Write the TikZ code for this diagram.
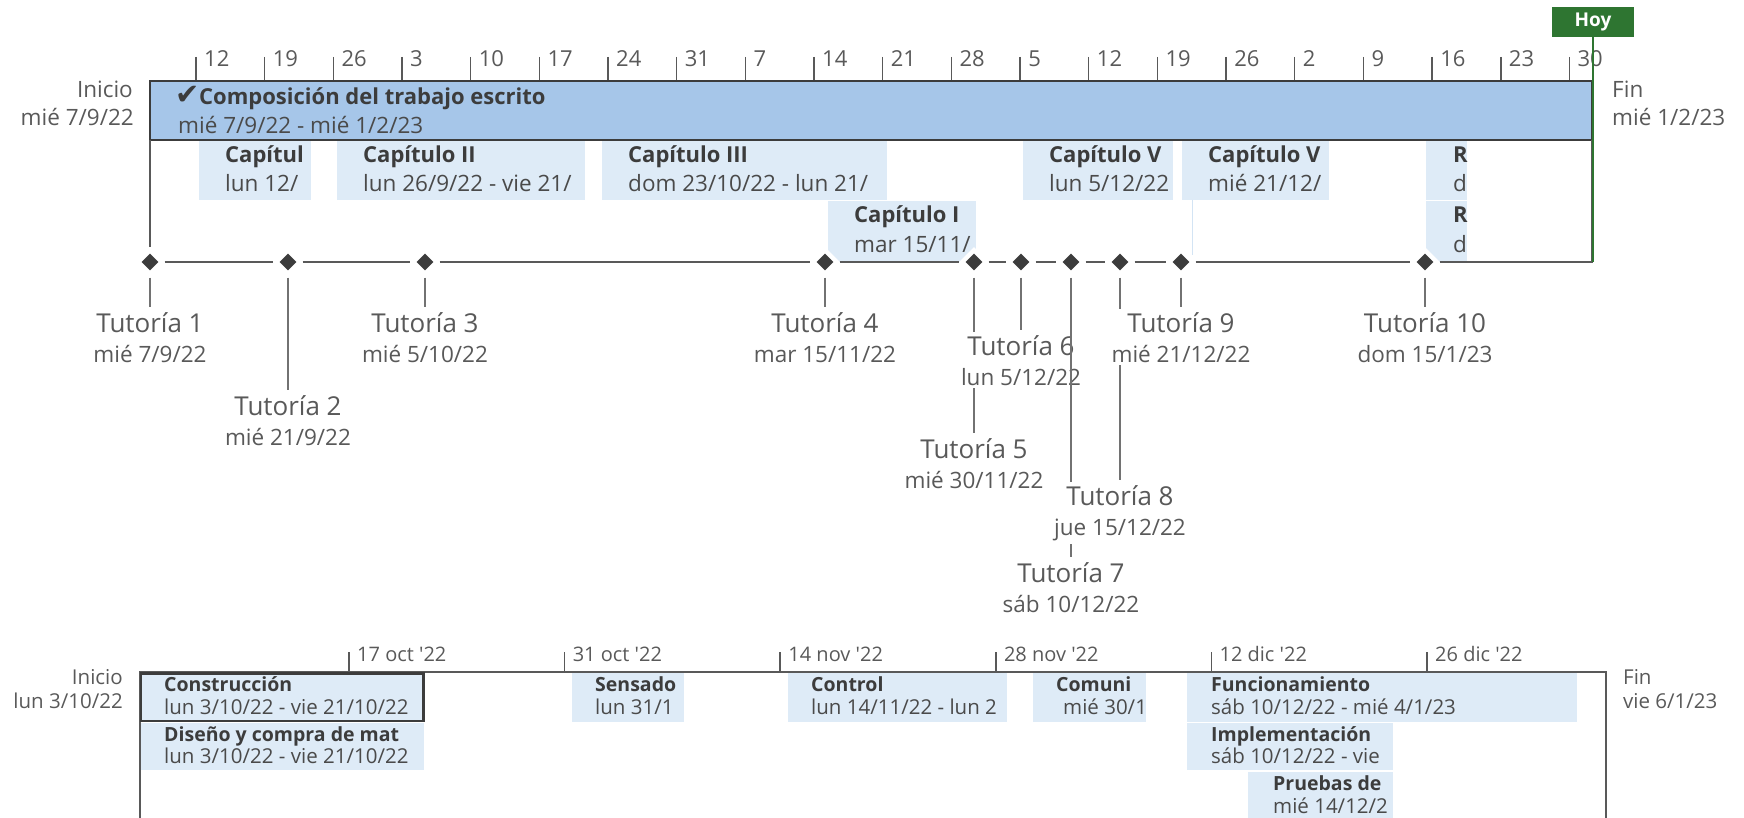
\documentclass[tikz,border=0pt]{standalone}
\usepackage{fontspec}
\setmainfont{Open Sans}
\newfontfamily\checkfont{DejaVu Sans}
\usetikzlibrary{shapes.geometric, positioning}
\definecolor{barfill}{HTML}{A6C6E9}
\definecolor{boxfill}{HTML}{DEEBF7}
\definecolor{inkdark}{HTML}{3C3C3C}
\definecolor{inktext}{HTML}{4A4A4A}
\definecolor{inkgray}{HTML}{595959}
\definecolor{hoygreen}{HTML}{2E7531}
\newcommand{\tutdate}{\fontsize{22.5}{30}\selectfont}

\begin{document}
\begin{tikzpicture}[x=1pt, y=-1pt,
  mainbar/.style={draw=inkdark, line width=2.6pt, fill=barfill, inner sep=0pt, outer sep=0pt,
    anchor=north west, minimum height=59},
  chapbox/.style={fill=boxfill, inner sep=0pt, outer sep=0pt, anchor=north west},
  ttl/.style={anchor=base west, inner sep=0pt, text=inkdark, font=\fontsize{22}{26}\selectfont\bfseries},
  dat/.style={anchor=base west, inner sep=0pt, text=inktext, font=\fontsize{22.5}{26}\selectfont},
  sttl/.style={ttl, font=\fontsize{19.5}{24}\selectfont\bfseries},
  sdat/.style={dat, font=\fontsize{20.5}{24}\selectfont},
  side/.style={inner sep=0pt, text=inkgray, font=\fontsize{22.5}{26}\selectfont},
  sside/.style={side, font=\fontsize{20.5}{24}\selectfont},
  tick/.style={draw=inkgray, line width=1.5pt},
  ticklbl/.style={anchor=base west, inner sep=0pt, text=inkgray, font=\fontsize{22}{26}\selectfont},
  sticklbl/.style={ticklbl, font=\fontsize{20}{24}\selectfont},
  axisline/.style={draw=inkgray, line width=1.7pt},
  gap/.style={shorten <=6pt, shorten >=6pt},
  mstone/.style={diamond, fill=inkdark, inner sep=0pt, minimum size=17,
    preaction={draw=white, line width=9pt}},
  drop/.style={draw=inkgray!85, line width=1.3pt, shorten <=7pt, shorten >=2pt},
  tut/.style={anchor=north, fill=white, align=center, inner xsep=2pt, inner ysep=3pt,
    text=inkgray, font=\fontsize{26}{30}\selectfont}
]
  \useasboundingbox (0,0) rectangle (1744,818);

  % escala superior
  \foreach \d [count=\k from 0] in {12,19,26,3,10,17,24,31,7,14,21,28,5,12,19,26,2,9,16,23,30} {
    \draw[tick] (196+68.67*\k,57) -- (196+68.67*\k,81);
    \node[ticklbl] (tk\k) at (204+68.67*\k,67) {\d};
  }

  % capitulos
  \node[chapbox, minimum width=112, minimum height=59] (cap1) at (199,141) {};
  \node[ttl] (cap1t) at (225,163) {Capítul};
  \node[dat] (cap1d) at (225,192) {lun 12/};

  \node[chapbox, minimum width=248, minimum height=59] (cap2) at (337,141) {};
  \node[ttl] (cap2t) at (363,163) {Capítulo II};
  \node[dat] (cap2d) at (363,192) {lun 26/9/22 - vie 21/};

  \node[chapbox, minimum width=285, minimum height=59] (cap3) at (602,141) {};
  \node[ttl] (cap3t) at (628,163) {Capítulo III};
  \node[dat] (cap3d) at (628,192) {dom 23/10/22 - lun 21/};

  \node[chapbox, minimum width=148, minimum height=61] (cap4) at (828,201) {};
  \node[ttl] (cap4t) at (854,223) {Capítulo I};
  \node[dat] (cap4d) at (854,252) {mar 15/11/};

  \node[chapbox, minimum width=150, minimum height=59] (cap5) at (1023,141) {};
  \node[ttl] (cap5t) at (1049,163) {Capítulo V};
  \node[dat] (cap5d) at (1049,192) {lun 5/12/22};

  \node[chapbox, minimum width=147, minimum height=59] (cap6) at (1182,141) {};
  \node[ttl] (cap6t) at (1208,163) {Capítulo V};
  \node[dat] (cap6d) at (1208,192) {mié 21/12/};
  \coordinate (cap6link) at (1192,255);
  \draw[boxfill!80!barfill, line width=1pt] (cap6.south west -| cap6link) -- (cap6link);

  \node[chapbox, minimum width=41, minimum height=59] (rev1) at (1426,141) {};
  \node[ttl] (rev1t) at (1453,163) {R};
  \node[dat] (rev1d) at (1453,192) {d};
  \node[chapbox, minimum width=41, minimum height=61] (rev2) at (1426,201) {};
  \node[ttl] (rev2t) at (1453,223) {R};
  \node[dat] (rev2d) at (1453,252) {d};

  % barra principal
  \node[mainbar, minimum width=1442] (bar) at (150,81) {};
  \node[anchor=base west, inner sep=0pt, text=inkdark, font=\checkfont\fontsize{29}{32}\selectfont] (check) at (175,105) {✔};
  \node[ttl] (bartitle) at (199,105) {Composición del trabajo escrito};
  \node[dat] (bardate) at (178,134) {mié 7/9/22 - mié 1/2/23};

  \node[side, anchor=base east] (start1) at (133,98) {Inicio};
  \node[side, anchor=base east] (start1d) at (134,126) {mié 7/9/22};
  \node[side, anchor=base west] (end1) at (1612,98) {Fin};
  \node[side, anchor=base west] (end1d) at (1612,126) {mié 1/2/23};

  % hitos
  \node[mstone] (t1) at (150,262) {};
  \node[mstone] (t2) at (288,262) {};
  \node[mstone] (t3) at (425,262) {};
  \node[mstone] (t4) at (825,262) {};
  \node[mstone] (t5) at (974,262) {};
  \node[mstone] (t6) at (1021,262) {};
  \node[mstone] (t7) at (1071,262) {};
  \node[mstone] (t8) at (1120,262) {};
  \node[mstone] (t9) at (1181,262) {};
  \node[mstone] (t10) at (1425,262) {};
  \coordinate (tlend) at (1592,262);

  \draw[axisline, shorten >=6pt] (bar.south west) -- (t1);
  \foreach \a/\b in {t1/t2,t2/t3,t3/t4,t4/t5,t5/t6,t6/t7,t7/t8,t8/t9,t9/t10}
    \draw[axisline, gap] (\a) -- (\b);
  \draw[axisline, shorten <=6pt] (t10) -- (tlend) -- (bar.south east);

  \node[tut] (l1) at (150,309) {Tutoría 1\\{\tutdate mié 7/9/22}};
  \draw[drop] (t1) -- (l1.north);
  \node[tut] (l2) at (288,392) {Tutoría 2\\{\tutdate mié 21/9/22}};
  \draw[drop] (t2) -- (l2.north);
  \node[tut] (l3) at (425,309) {Tutoría 3\\{\tutdate mié 5/10/22}};
  \draw[drop] (t3) -- (l3.north);
  \node[tut] (l4) at (825,309) {Tutoría 4\\{\tutdate mar 15/11/22}};
  \draw[drop] (t4) -- (l4.north);
  \node[tut] (l5) at (974,435) {Tutoría 5\\{\tutdate mié 30/11/22}};
  \draw[drop] (t5) -- (l5.north);
  \node[tut] (l6) at (1021,332) {Tutoría 6\\{\tutdate lun 5/12/22}};
  \draw[drop] (t6) -- (l6.north);
  \node[tut] (l7) at (1071,559) {Tutoría 7\\{\tutdate sáb 10/12/22}};
  \draw[drop] (t7) -- (l7.north);
  \node[tut] (l8) at (1120,482) {Tutoría 8\\{\tutdate jue 15/12/22}};
  \draw[drop] (t8) -- (l8.north);
  \node[tut] (l9) at (1181,309) {Tutoría 9\\{\tutdate mié 21/12/22}};
  \draw[drop] (t9) -- (l9.north);
  \node[tut] (l10) at (1425,309) {Tutoría 10\\{\tutdate dom 15/1/23}};
  \draw[drop] (t10) -- (l10.north);

  % hoy
  \node[fill=hoygreen, minimum width=82, minimum height=30, inner sep=0pt, text=white,
        font=\fontsize{19}{22}\selectfont\bfseries] (hoy) at (1593,22) {Hoy};
  \coordinate (hoyend) at (1593,262);
  \draw[hoygreen, line width=2pt] (hoy.south) -- (hoyend);

  % linea de tiempo inferior
  \foreach \d [count=\k from 0] in {17 oct \textquotesingle22, 31 oct \textquotesingle22,
      14 nov \textquotesingle22, 28 nov \textquotesingle22, 12 dic \textquotesingle22, 26 dic \textquotesingle22} {
    \draw[tick] (349+215.6*\k,652) -- (349+215.6*\k,672);
    \node[sticklbl] (bk\k) at (357+215.6*\k,661) {\d};
  }

  \node[chapbox, minimum width=284, minimum height=47] (des) at (140,723) {};
  \node[chapbox, minimum width=112, minimum height=49] (sens) at (572,673) {};
  \node[chapbox, minimum width=219, minimum height=49] (ctrl) at (788,673) {};
  \node[chapbox, minimum width=113, minimum height=49] (comm) at (1033,673) {};
  \node[chapbox, minimum width=390, minimum height=49] (func) at (1187,673) {};
  \node[chapbox, minimum width=206, minimum height=47] (impl) at (1187,723) {};
  \node[chapbox, minimum width=145, minimum height=58] (prue) at (1248,772) {};

  \draw[axisline] (140,830) -- (140,672) -- (1606,672) -- (1606,830);
  \node[chapbox, draw=inkdark, line width=2.6pt, minimum width=282.5, minimum height=47.5] (cons) at (141,673.5) {};

  \node[sttl] (const) at (164,691) {Construcción};
  \node[sdat] (consd) at (164,714) {lun 3/10/22 - vie 21/10/22};
  \node[sttl] (dest) at (164,741) {Diseño y compra de mat};
  \node[sdat] (desd) at (164,763) {lun 3/10/22 - vie 21/10/22};
  \node[sttl] (senst) at (595,691) {Sensado};
  \node[sdat] (sensd) at (595,714) {lun 31/1};
  \node[sttl] (ctrlt) at (811,691) {Control};
  \node[sdat] (ctrld) at (811,714) {lun 14/11/22 - lun 2};
  \node[sttl] (commt) at (1056,691) {Comuni};
  \node[sdat] (commd) at (1063,714) {mié 30/1};
  \node[sttl] (funct) at (1211,691) {Funcionamiento};
  \node[sdat] (funcd) at (1211,714) {sáb 10/12/22 - mié 4/1/23};
  \node[sttl] (implt) at (1211,741) {Implementación};
  \node[sdat] (impld) at (1211,763) {sáb 10/12/22 - vie};
  \node[sttl] (pruet) at (1273,790) {Pruebas de};
  \node[sdat] (prued) at (1273,813) {mié 14/12/2};

  \node[sside, anchor=base east] (start2) at (123,684) {Inicio};
  \node[sside, anchor=base east] (start2d) at (123,708) {lun 3/10/22};
  \node[sside, anchor=base west] (end2) at (1623,684) {Fin};
  \node[sside, anchor=base west] (end2d) at (1623,708) {vie 6/1/23};
\end{tikzpicture}
\end{document}
